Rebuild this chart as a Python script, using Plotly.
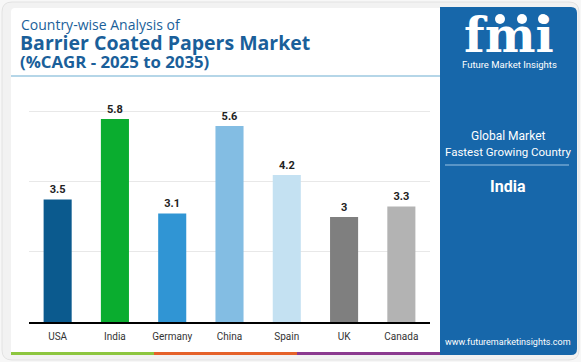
import plotly.graph_objects as go

countries = ["USA", "India", "Germany", "China", "Spain", "UK", "Canada"]
cagr = [3.5, 5.8, 3.1, 5.6, 4.2, 3.0, 3.3]
bar_colors = ["#0b5a8e", "#0aad2f", "#3095d4", "#83bde3", "#c4e1f2", "#7f7f7f", "#b3b3b3"]
value_labels = ["3.5", "5.8", "3.1", "5.6", "4.2", "3", "3.3"]

W, H = 581, 362
L, R, T, B = 29, 151, 100, 40
PW, PH = W - L - R, H - T - B

fig = go.Figure()
fig.add_trace(go.Bar(
    x=countries, y=cagr, marker=dict(color=bar_colors, line=dict(width=0)),
    width=0.49, text=value_labels, texttemplate="<b>%{text}</b>", textposition="outside",
    textfont=dict(family="Roboto", size=11, color="#222222"),
    cliponaxis=False, hoverinfo="skip",
))

def px(x):
    return (x - L) / PW

def py(y):
    return (H - B - y) / PH

def rounded(x0, y0, x1, y1, rl, rr):
    pts = [("M", x0 + rl, y0), ("L", x1 - rr, y0), ("Q", x1, y0, x1, y0 + rr), ("L", x1, y1 - rr),
           ("Q", x1, y1, x1 - rr, y1), ("L", x0 + rl, y1), ("Q", x0, y1, x0, y1 - rl),
           ("L", x0, y0 + rl), ("Q", x0, y0, x0 + rl, y0)]
    segs = []
    for p in pts:
        if p[0] == "Q":
            segs.append(f"Q {px(p[1]):.5f},{py(p[2]):.5f} {px(p[3]):.5f},{py(p[4]):.5f}")
        else:
            segs.append(f"{p[0]} {px(p[1]):.5f},{py(p[2]):.5f}")
    return " ".join(segs) + " Z"

shapes = []
shapes.append(dict(type="path", xref="paper", yref="paper", path=rounded(2, 2, 579, 360, 10, 10),
                   fillcolor="#f2f2f2", line=dict(color="#e2e2e2", width=1), layer="below"))
shapes.append(dict(type="path", xref="paper", yref="paper", path=rounded(11, 8, 445, 355, 4, 0),
                   fillcolor="white", line=dict(width=0), layer="below"))
shapes.append(dict(type="path", xref="paper", yref="paper", path=rounded(440, 7, 577, 355, 0, 6),
                   fillcolor="#1767aa", line=dict(width=0), layer="below"))
shapes.append(dict(type="line", xref="paper", yref="paper", x0=px(11), x1=px(440), y0=py(76), y1=py(76),
                   line=dict(color="#9cc8e0", width=1.5)))
for a, b, c in [(11, 154, "#8dc63f"), (154, 297, "#e5622a"), (297, 440, "#8b3a8f")]:
    shapes.append(dict(type="rect", xref="paper", yref="paper", x0=px(a), x1=px(b), y0=py(355), y1=py(352),
                       fillcolor=c, line=dict(width=0)))
shapes.append(dict(type="line", xref="paper", yref="paper", x0=px(445), x1=px(569), y0=py(165), y1=py(165),
                   line=dict(color="#9cc3e3", width=1.2)))
for cx in [500, 522, 543]:
    shapes.append(dict(type="circle", xref="paper", yref="paper", x0=px(cx - 5), x1=px(cx + 5),
                       y0=py(24), y1=py(14), fillcolor="white", line=dict(width=0)))

annotations = []
def add_text(txt, x, y, size, color, bold=False, xanchor="left", family="Roboto"):
    annotations.append(dict(text=(f"<b>{txt}</b>" if bold else txt), xref="paper", yref="paper",
                            x=px(x), y=py(y), xanchor=xanchor, yanchor="middle", showarrow=False,
                            font=dict(size=size, color=color, family=family)))

add_text("Country-wise Analysis of", 19, 25, 14, "#1a5f9a", family="Open Sans")
add_text("Barrier Coated Papers Market", 18, 43, 19.5, "#1a5f9a", bold=True, family="Open Sans")
add_text("(%CAGR - 2025 to 2035)", 18, 62, 16.8, "#1a5f9a", bold=True, family="Open Sans")

add_text("fmi", 509, 35, 48, "white", bold=True, xanchor="center", family="DejaVu Serif")
add_text("Future Market Insights", 509, 64, 9.5, "white", xanchor="center")
add_text("Global Market", 508, 136, 12, "white", xanchor="center")
add_text("Fastest Growing Country", 508, 152, 11.5, "white", xanchor="center")
add_text("India", 508, 186, 16, "white", bold=True, xanchor="center")
add_text("www.futuremarketinsights.com", 508, 342, 9, "white", xanchor="center")

fig.update_layout(
    width=W, height=H, margin=dict(l=L, r=R, t=T, b=B),
    paper_bgcolor="#f7f7f7", plot_bgcolor="rgba(0,0,0,0)",
    showlegend=False, shapes=shapes, annotations=annotations,
    xaxis=dict(range=[-0.5, 6.5], showline=True, linecolor="black", linewidth=1.5,
               ticks="outside", ticklen=4, tickcolor="rgba(0,0,0,0)",
               tickfont=dict(family="Roboto", size=10, color="#333333"), showgrid=False,
               fixedrange=True),
    yaxis=dict(range=[0, 6.34], tickvals=[2, 4, 6], showticklabels=False, showgrid=True,
               gridcolor="#e8e8e8", gridwidth=1, zeroline=False, fixedrange=True),
)

fig.write_html("out.html", config={"displayModeBar": False},
               post_script="document.body.style.margin='0';document.body.style.overflow='hidden';")
